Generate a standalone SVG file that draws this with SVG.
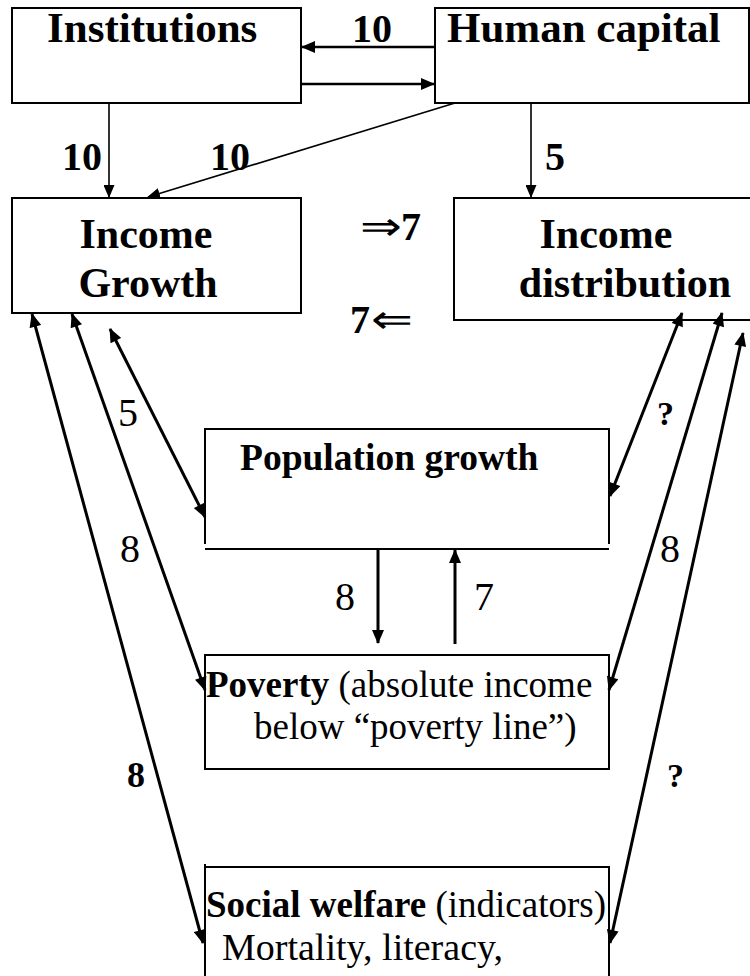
<svg xmlns="http://www.w3.org/2000/svg" width="750" height="976" viewBox="0 0 750 976">
<style>
.box{fill:none;stroke:#000;stroke-width:2}
.c{fill:none;stroke:#000}
.thin{stroke-width:1.6}
.med{stroke-width:2.5}
.thick{stroke-width:3}
text{font-family:"Liberation Serif","Times New Roman",serif;fill:#000}
.b{font-weight:bold}
</style>
<defs>
<marker id="ah" viewBox="0 0 14 12" refX="13" refY="6" markerWidth="15" markerHeight="12" markerUnits="userSpaceOnUse" orient="auto-start-reverse">
<path d="M0,0 L14,6 L0,12 z" fill="#000"/>
</marker>
<marker id="ahs" viewBox="0 0 14 12" refX="13" refY="6" markerWidth="13" markerHeight="11" markerUnits="userSpaceOnUse" orient="auto-start-reverse">
<path d="M0,0 L14,6 L0,12 z" fill="#000"/>
</marker>
</defs>

<g id="institutions">
<rect class="box" x="12" y="8" width="289" height="95"/>
<text class="b" x="47" y="42" font-size="43">Institutions</text>
</g>
<g id="human-capital">
<rect class="box" x="435" y="8" width="314" height="95"/>
<text class="b" x="447" y="42" font-size="43">Human capital</text>
</g>
<g id="income-growth">
<rect class="box" x="12" y="198" width="289" height="115"/>
<text class="b" x="146" y="248" font-size="42" text-anchor="middle">Income</text>
<text class="b" x="148" y="297" font-size="42" text-anchor="middle">Growth</text>
</g>
<g id="income-distribution">
<rect class="box" x="454" y="198" width="320" height="122"/>
<text class="b" x="606" y="248" font-size="42" text-anchor="middle">Income</text>
<text class="b" x="625" y="297" font-size="42" text-anchor="middle">distribution</text>
</g>
<g id="population-growth">
<path class="box" d="M205,544 V429 H609 V544"/>
<line class="box" x1="205" y1="549" x2="609" y2="549"/>
<text class="b" x="240" y="470" font-size="37.5">Population growth</text>
</g>
<g id="poverty">
<rect class="box" x="205" y="655" width="404" height="114"/>
<text x="206" y="697" font-size="37"><tspan class="b">Poverty</tspan> (absolute income</text>
<text x="254" y="739" font-size="37">below “poverty line”)</text>
</g>
<g id="social-welfare">
<path class="box" d="M205,980 V864 M205,867 H609 V980"/>
<text x="206" y="917" font-size="37"><tspan class="b">Social welfare</tspan> (indicators)</text>
<text x="222" y="960" font-size="38">Mortality, literacy,</text>
</g>

<g id="connectors">
<line class="c med" x1="435" y1="47" x2="302" y2="47" marker-end="url(#ah)"/>
<line class="c med" x1="302" y1="84" x2="434" y2="84" marker-end="url(#ah)"/>
<line class="c thin" x1="109" y1="103" x2="109" y2="197" marker-end="url(#ahs)"/>
<line class="c thin" x1="455" y1="103" x2="148" y2="197" marker-end="url(#ahs)"/>
<line class="c thin" x1="531" y1="103" x2="531" y2="197" marker-end="url(#ahs)"/>

<line class="c thick" x1="32" y1="314" x2="203" y2="943" marker-start="url(#ah)" marker-end="url(#ah)"/>
<line class="c thick" x1="72" y1="314" x2="205" y2="690" marker-start="url(#ah)" marker-end="url(#ah)"/>
<line class="c thick" x1="110" y1="329" x2="205" y2="517" marker-start="url(#ah)" marker-end="url(#ah)"/>

<line class="c thick" x1="682" y1="313" x2="610" y2="496" marker-start="url(#ah)" marker-end="url(#ah)"/>
<line class="c thick" x1="722" y1="313" x2="609" y2="690" marker-start="url(#ah)" marker-end="url(#ah)"/>
<line class="c thick" x1="743" y1="333" x2="610" y2="943" marker-start="url(#ah)" marker-end="url(#ah)"/>

<line class="c thick" x1="378" y1="549" x2="378" y2="643" marker-end="url(#ah)"/>
<line class="c thick" x1="455" y1="644" x2="455" y2="550" marker-end="url(#ah)"/>

<g id="labels">
<text class="b" x="352" y="42" font-size="40">10</text>
<text class="b" x="62" y="170" font-size="40">10</text>
<text class="b" x="210" y="170" font-size="40">10</text>
<text class="b" x="545" y="170" font-size="40">5</text>
<text transform="translate(360,240) scale(1.25,1)" font-size="40">⇒</text>
<text class="b" x="401" y="240" font-size="40">7</text>
<text class="b" x="350" y="333" font-size="40">7</text>
<text transform="translate(371,333) scale(1.25,1)" font-size="40">⇐</text>
<text x="118" y="426" font-size="40">5</text>
<text class="b" x="657" y="425" font-size="34">?</text>
<text x="120" y="562" font-size="40">8</text>
<text x="660" y="562" font-size="40">8</text>
<text x="335" y="610" font-size="40">8</text>
<text x="474" y="610" font-size="40">7</text>
<text class="b" x="127" y="787" font-size="36">8</text>
<text class="b" x="667" y="787" font-size="34">?</text>
</g>
</g>
</svg>
